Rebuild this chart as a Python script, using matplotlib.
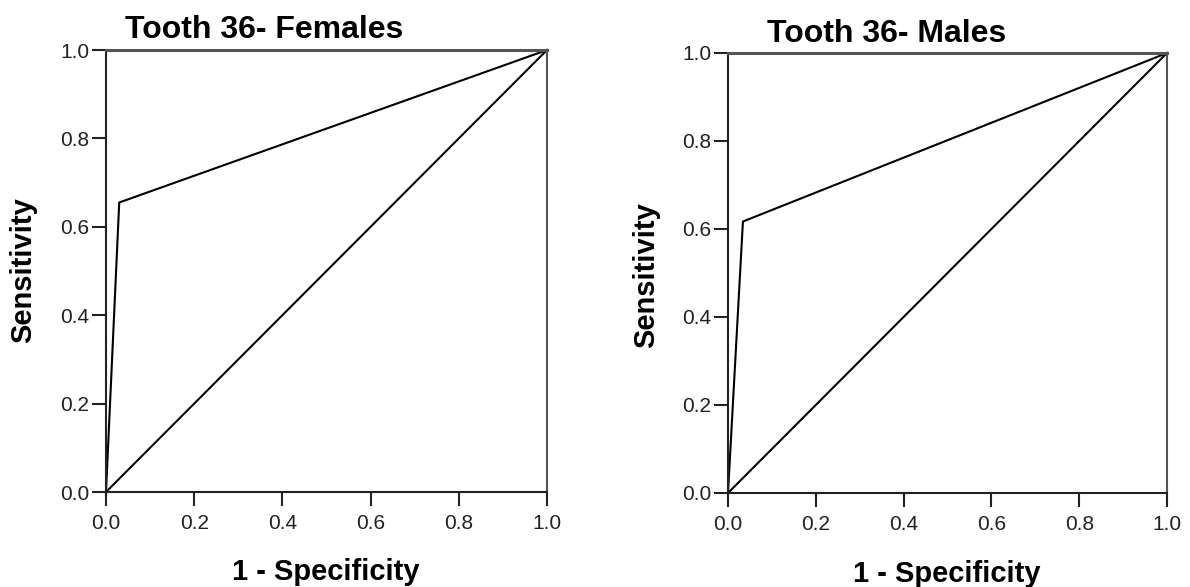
import matplotlib.pyplot as plt

plt.rcParams['font.family'] = ['Liberation Sans', 'DejaVu Sans']

# ROC points
fem_fpr = [0.0, 0.03, 1.0]
fem_tpr = [0.0, 0.655, 1.0]
male_fpr = [0.0, 0.034, 1.0]
male_tpr = [0.0, 0.617, 1.0]
ref_line = [0.0, 1.0]
ticks = [0.0, 0.2, 0.4, 0.6, 0.8, 1.0]
tick_labels = ["0.0", "0.2", "0.4", "0.6", "0.8", "1.0"]

W, H = 1190, 587
fig = plt.figure(figsize=(W / 100, H / 100), dpi=100)
ax1 = fig.add_axes([106 / W, 1 - 492 / H, 441 / W, 442 / H])
ax2 = fig.add_axes([728 / W, 1 - 493 / H, 439 / W, 440 / H])

# (axes, x, y, title, title x, title baseline, ylabel x, ylabel y, xlabel x, xlabel baseline)
panels = [
    (ax1, fem_fpr, fem_tpr, "Tooth 36- Females", 125, 38, 23, 270, 326, 580),
    (ax2, male_fpr, male_tpr, "Tooth 36- Males", 767, 42, 646, 275, 947, 582),
]

for ax, fpr, tpr, title, tx, ty, yx, yy, xx, xy in panels:
    ax.plot(fpr, tpr, color="black", lw=1.5, clip_on=False)
    ax.plot(ref_line, ref_line, color="black", lw=1.5, clip_on=False)
    ax.set_xlim(0, 1)
    ax.set_ylim(0, 1)
    ax.set_xticks(ticks)
    ax.set_xticklabels(tick_labels)
    ax.set_yticks(ticks)
    ax.set_yticklabels(tick_labels)
    ax.tick_params(direction="out", length=10, width=1.5, labelsize=15,
                   colors="#222222")
    ax.tick_params(axis="y", pad=2)
    ax.tick_params(axis="x", pad=6)
    for s in ax.spines.values():
        s.set_linewidth(1.5)
        s.set_color("#222222")
    ax.spines["top"].set_color("#555555")
    ax.spines["top"].set_linewidth(2.2)
    ax.spines["right"].set_color("#555555")
    fig.text(tx / W, 1 - ty / H, title, fontsize=23, fontweight="bold",
             ha="left", va="baseline")
    fig.text(yx / W, 1 - yy / H, "Sensitivity", fontsize=21, fontweight="bold",
             rotation=90, ha="center", va="center")
    fig.text(xx / W, 1 - xy / H, "1 - Specificity", fontsize=21,
             fontweight="bold", ha="center", va="baseline")

plt.savefig("out.png", dpi=100)
